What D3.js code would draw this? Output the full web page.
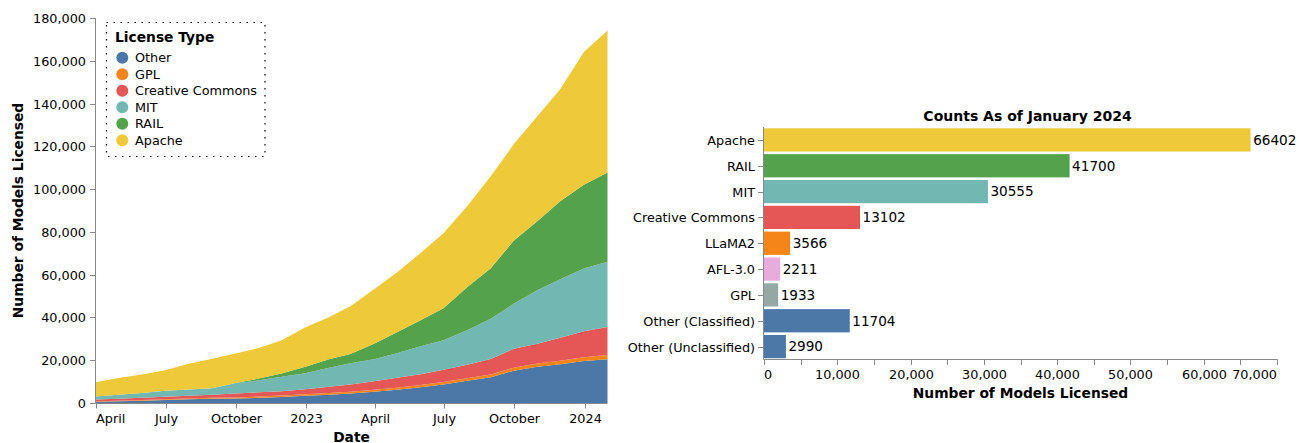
<!DOCTYPE html>
<html>
<head>
<meta charset="utf-8">
<script src="https://cdn.jsdelivr.net/npm/d3@7"></script>
<style>
  html, body { margin: 0; padding: 0; background: #fff; }
  svg { display: block; font-family: "DejaVu Sans", Verdana, sans-serif; }
</style>
</head>
<body>
<svg id="chart" width="1299" height="443"></svg>
<script>
// ---------------- DATA ----------------
const dates = ["2022-03-31","2022-04-30","2022-05-31","2022-06-30","2022-07-31","2022-08-31",
  "2022-09-30","2022-10-31","2022-11-30","2022-12-31","2023-01-31","2023-02-28","2023-03-31",
  "2023-04-30","2023-05-31","2023-06-30","2023-07-31","2023-08-31","2023-09-30","2023-10-31",
  "2023-11-30","2023-12-31","2024-01-31"];
const licenseTypes = ["Other", "GPL", "Creative Commons", "MIT", "RAIL", "Apache"];
const otherVals  = [560, 800, 1100, 1400, 1700, 1950, 2050, 2400, 2800, 3350, 3900, 4400, 5240, 6170, 7340, 8600, 10380, 12010, 15050, 16920, 18090, 19640, 20471];
const gplVals    = [250, 300, 350, 400, 450, 500, 550, 600, 650, 720, 780, 850, 930, 1000, 1080, 1160, 1250, 1350, 1460, 1560, 1680, 1800, 1933];
const ccVals     = [780, 860, 980, 1100, 1220, 1380, 1790, 2000, 2020, 2330, 2890, 3350, 3970, 4610, 5000, 5760, 6230, 7210, 8830, 9200, 10710, 12080, 13102];
const mitVals    = [1400, 1870, 2250, 2800, 2890, 3040, 4820, 5610, 6780, 7480, 8890, 9960, 10290, 11460, 13090, 13790, 16130, 18790, 21040, 25010, 27350, 29310, 30555];
const railVals   = [0, 0, 0, 0, 0, 0, 100, 800, 1500, 3040, 3970, 4300, 7250, 9810, 12150, 14960, 20100, 23610, 29450, 32260, 36470, 39180, 41700];
const apacheVals = [6690, 7810, 8600, 9590, 12070, 13790, 13780, 14300, 15560, 18470, 19630, 22340, 25470, 27950, 31510, 35060, 37870, 43010, 45110, 49080, 52350, 62090, 66402];
const areaColors = ["#4c78a8", "#f58518", "#e45756", "#72b7b2", "#54a24b", "#eeca3b"];
const yTicksArea = [0, 20000, 40000, 60000, 80000, 100000, 120000, 140000, 160000, 180000];

const barCategories = ["Apache", "RAIL", "MIT", "Creative Commons", "LLaMA2", "AFL-3.0", "GPL", "Other (Classified)", "Other (Unclassified)"];
const barValues = [66402, 41700, 30555, 13102, 3566, 2211, 1933, 11704, 2990];
const barColors = ["#eeca3b", "#54a24b", "#72b7b2", "#e45756", "#f58518", "#e8acdc", "#94a9a4", "#4c78a8", "#4c78a8"];
const barTicks = [0, 5000, 10000, 15000, 20000, 25000, 30000, 35000, 40000, 45000, 50000, 55000, 60000, 65000, 70000];

// ---------------- SETUP ----------------
const svg = d3.select("#chart");
const AXIS = "#888";
const LABEL_FS = 12.8;
const TITLE_FS = 13.8;
const parse = d3.timeParse("%Y-%m-%d");
const fmt = d3.format(",");

// ---------------- AREA CHART ----------------
const seriesVals = [otherVals, gplVals, ccVals, mitVals, railVals, apacheVals];
const rows = dates.map((d, i) => {
  const r = { date: parse(d) };
  licenseTypes.forEach((k, j) => r[k] = seriesVals[j][i]);
  return r;
});
const stack = d3.stack().keys(licenseTypes);
const layers = stack(rows);

const x = d3.scaleTime()
  .domain(d3.extent(rows, r => r.date))
  .range([95.5, 607.5]);
const y = d3.scaleLinear().domain([0, 180000]).range([403, 18]);

const area = d3.area()
  .x(d => x(d.data.date))
  .y0(d => y(d[0]))
  .y1(d => y(d[1]));

const gA = svg.append("g");
gA.selectAll("path.layer").data(layers).join("path")
  .attr("class", "layer")
  .attr("fill", (d, i) => areaColors[i])
  .attr("d", area);

// x axis
const monthName = d3.timeFormat("%B");
const yearFmt = d3.timeFormat("%Y");
const xTicks = x.ticks(d3.timeMonth.every(3));
const xAxisG = gA.append("g").attr("transform", "translate(0,403.5)");
xAxisG.append("line").attr("x1", 95.5).attr("x2", 607.5).attr("stroke", AXIS);
xTicks.forEach((t, i) => {
  const px = Math.round(x(t)) + 0.5;
  xAxisG.append("line").attr("x1", px).attr("x2", px).attr("y1", 0).attr("y2", 5).attr("stroke", AXIS);
  xAxisG.append("text")
    .attr("x", i === 0 ? px - 0.5 : px)
    .attr("y", 19.5)
    .attr("text-anchor", i === 0 ? "start" : "middle")
    .attr("font-size", LABEL_FS)
    .attr("fill", "#000")
    .text(t.getMonth() === 0 ? yearFmt(t) : monthName(t));
});
gA.append("text").attr("x", 351.5).attr("y", 441.5).attr("text-anchor", "middle")
  .attr("font-size", TITLE_FS).attr("font-weight", "bold").text("Date");

// y axis
const yAxisG = gA.append("g");
yAxisG.append("line").attr("x1", 95.5).attr("x2", 95.5).attr("y1", 18).attr("y2", 403.5).attr("stroke", AXIS);
yTicksArea.forEach(v => {
  const py = Math.round(y(v)) + 0.5;
  yAxisG.append("line").attr("x1", 90).attr("x2", 95.5).attr("y1", py).attr("y2", py).attr("stroke", AXIS);
  yAxisG.append("text").attr("x", 86).attr("y", py).attr("dy", "0.35em")
    .attr("text-anchor", "end").attr("font-size", LABEL_FS).attr("fill", "#000").text(fmt(v));
});
gA.append("text").attr("transform", "translate(23,210.5) rotate(-90)")
  .attr("text-anchor", "middle").attr("font-size", TITLE_FS).attr("font-weight", "bold")
  .text("Number of Models Licensed");

// legend
const lg = gA.append("g");
lg.append("rect").attr("x", 106.5).attr("y", 22.5).attr("width", 158.5).attr("height", 134)
  .attr("fill", "#fff").attr("stroke", "#000").attr("stroke-width", 1.2).attr("stroke-dasharray", "1.5,5.5");
lg.append("text").attr("x", 115).attr("y", 41.7).attr("font-size", TITLE_FS).attr("font-weight", "bold").text("License Type");
licenseTypes.forEach((k, i) => {
  const cy = 57.7 + i * 16.5;
  lg.append("circle").attr("cx", 122.3).attr("cy", cy).attr("r", 6).attr("fill", areaColors[i]);
  lg.append("text").attr("x", 135).attr("y", cy).attr("dy", "0.36em").attr("font-size", LABEL_FS).text(k);
});

// ---------------- BAR CHART ----------------
const bx = d3.scaleLinear().domain([0, 70000]).range([764, 1277]);
const by = d3.scaleBand().domain(barCategories).range([127, 359.5]).paddingInner(0.1).paddingOuter(0.05);
const gB = svg.append("g");
gB.selectAll("rect.bar").data(barCategories).join("rect")
  .attr("class", "bar")
  .attr("x", bx(0))
  .attr("y", d => by(d))
  .attr("width", (d, i) => bx(barValues[i]) - bx(0))
  .attr("height", by.bandwidth())
  .attr("fill", (d, i) => barColors[i]);
gB.selectAll("text.val").data(barCategories).join("text")
  .attr("class", "val")
  .attr("x", (d, i) => bx(barValues[i]) + 2.5)
  .attr("y", d => by(d) + by.bandwidth() / 2)
  .attr("dy", "0.36em")
  .attr("font-size", 13.6)
  .attr("fill", "#000")
  .text((d, i) => barValues[i]);

// bar x axis
const bxAxis = gB.append("g").attr("transform", "translate(0,359.5)");
bxAxis.append("line").attr("x1", 763.5).attr("x2", 1277.5).attr("stroke", AXIS);
barTicks.forEach((v, i) => {
  const px = Math.round(bx(v)) + 0.5;
  bxAxis.append("line").attr("x1", px).attr("x2", px).attr("y1", 0).attr("y2", 5.5).attr("stroke", AXIS);
  if (v % 10000 === 0) {
    const last = i === barTicks.length - 1;
    bxAxis.append("text")
      .attr("x", i === 0 ? px - 0.5 : last ? px - 0.5 : px)
      .attr("y", 19.5)
      .attr("text-anchor", i === 0 ? "start" : last ? "end" : "middle")
      .attr("font-size", LABEL_FS).attr("fill", "#000").text(fmt(v));
  }
});
gB.append("text").attr("x", 1020.5).attr("y", 398).attr("text-anchor", "middle")
  .attr("font-size", TITLE_FS).attr("font-weight", "bold").text("Number of Models Licensed");

// bar y axis
const byAxis = gB.append("g");
byAxis.append("line").attr("x1", 763.5).attr("x2", 763.5).attr("y1", 127).attr("y2", 359.5).attr("stroke", AXIS);
barCategories.forEach(c => {
  const py = Math.round(by(c) + by.bandwidth() / 2) + 0.5;
  byAxis.append("line").attr("x1", 758).attr("x2", 763.5).attr("y1", py).attr("y2", py).attr("stroke", AXIS);
  byAxis.append("text").attr("x", 755).attr("y", py).attr("dy", "0.35em").attr("text-anchor", "end")
    .attr("font-size", LABEL_FS).attr("fill", "#000").text(c);
});
gB.append("text").attr("x", 1027.5).attr("y", 121).attr("text-anchor", "middle")
  .attr("font-size", 14).attr("font-weight", "bold").text("Counts As of January 2024");
</script>
</body>
</html>
